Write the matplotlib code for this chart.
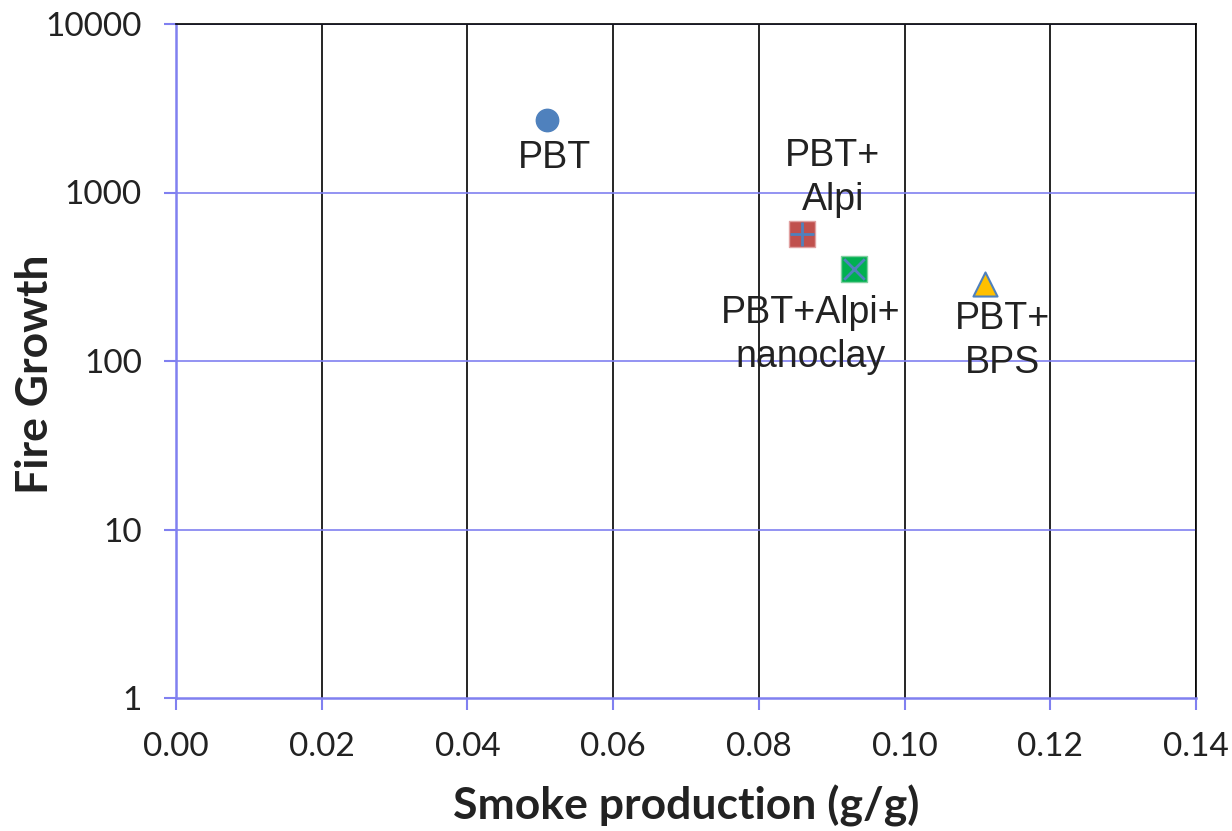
import matplotlib
matplotlib.use("Agg")
import matplotlib.pyplot as plt
from matplotlib.ticker import FixedLocator, NullLocator

names = ["PBT", "PBT+Alpi", "PBT+Alpi+nanoclay", "PBT+BPS"]
smoke = [0.0509, 0.0859, 0.0931, 0.111]
growth = [2690, 570, 350, 285]
label_texts = ["PBT", "PBT+\nAlpi", "PBT+Alpi+\nnanoclay", "PBT+\nBPS"]
label_offsets = [(8, -38), (31, 56), (-44, -66), (18, -57)]  # pixels
xticks = [0.00, 0.02, 0.04, 0.06, 0.08, 0.10, 0.12, 0.14]
yticks = [1, 10, 100, 1000, 10000]

fig = plt.figure(figsize=(12.32, 8.31), dpi=100)
ax = fig.add_axes([176/1232, 1-698/831, (1196-176)/1232, (698-24)/831])
ax.set_yscale("log")
ax.set_xlim(0, 0.14)
ax.set_ylim(1, 10000)

blue = "#8080f0"
for x in xticks[1:]:
    ax.axvline(x, color="black", lw=1.2, zorder=1)
for y in yticks[1:]:
    ax.axhline(y, color=blue, lw=1.2, zorder=1)

for s in ["top", "right"]:
    ax.spines[s].set_color("black")
    ax.spines[s].set_linewidth(1.2)
for s in ["left", "bottom"]:
    ax.spines[s].set_color(blue)
    ax.spines[s].set_linewidth(1.8)

ax.xaxis.set_major_locator(FixedLocator(xticks))
ax.yaxis.set_major_locator(FixedLocator(yticks))
ax.yaxis.set_minor_locator(NullLocator())
ax.set_xticklabels([f"{v:.2f}" for v in xticks])
ax.set_yticklabels([str(v) for v in yticks])
ax.tick_params(axis="both", direction="out", length=8.6, color=blue, width=1.5,
               labelsize=24, labelcolor="#222222")
ax.tick_params(axis="x", pad=16)
ax.tick_params(axis="y", pad=16)
for t in ax.get_xticklabels() + ax.get_yticklabels():
    t.set_fontfamily("Lato")

edge = "#4f81bd"
ax.scatter(smoke[0], growth[0], s=260, marker="o", color="#4f81bd", edgecolor="#4f81bd", zorder=5)
ax.scatter(smoke[1], growth[1], s=340, marker="s", color="#c0504d", edgecolor="#e0a0a0", lw=1, zorder=5)
ax.scatter(smoke[1], growth[1], s=280, marker="+", color=edge, lw=2, zorder=6)
ax.scatter(smoke[2], growth[2], s=340, marker="s", color="#00b050", edgecolor="#80d0a0", lw=1, zorder=5)
ax.scatter(smoke[2], growth[2], s=220, marker="x", color=edge, lw=2, zorder=6)
ax.scatter(smoke[3], growth[3], s=300, marker="^", color="#ffc000", edgecolor=edge, lw=1.5, zorder=5)

for x, y, t, off in zip(smoke, growth, label_texts, label_offsets):
    ax.annotate(t, (x, y), xytext=off, textcoords="offset pixels", ha="center", va="center",
                fontsize=27, family="Liberation Sans", color="#222222", linespacing=1.28, zorder=7)

ax.set_xlabel("Smoke production (g/g)", fontsize=32, fontweight="bold", family="Lato",
              color="#222222", labelpad=16)
ax.set_ylabel("Fire Growth", fontsize=32, fontweight="bold", family="Lato",
              color="#222222", va="center", ha="center")
ax.yaxis.set_label_coords(-0.138, 0.481)

fig.savefig("out.png", dpi=100)
